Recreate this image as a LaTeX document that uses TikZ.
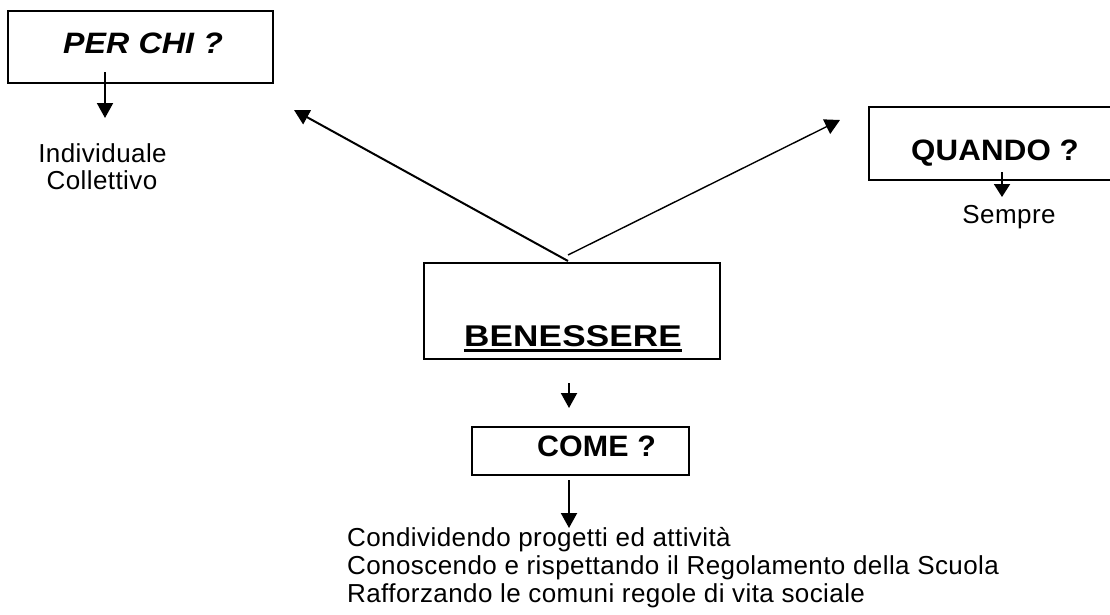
\documentclass[tikz,border=0pt]{standalone}
\usepackage{fontspec}
\setmainfont{Liberation Sans}
\usetikzlibrary{arrows.meta}
\begin{document}
\begin{tikzpicture}[x=1pt,y=-1pt,
  box/.style={draw, line width=1.8pt, inner sep=0pt},
  reg/.style={inner sep=0pt, font=\fontsize{26}{28}\selectfont\addfontfeature{LetterSpace=1.6}},
  hd/.style={inner sep=0pt, font=\fontsize{29.5}{32}\selectfont\bfseries\addfontfeature{FakeStretch=1.06,LetterSpace=0.5}},
  hdi/.style={inner sep=0pt, font=\fontsize{29.5}{32}\selectfont\bfseries\itshape\addfontfeature{FakeStretch=1.09,LetterSpace=0.5}},
  hdb/.style={inner sep=0pt, font=\fontsize{30}{33}\selectfont\bfseries\addfontfeature{FakeStretch=1.17,LetterSpace=0.5}},
  hdc/.style={inner sep=0pt, font=\fontsize{29.5}{32}\selectfont\bfseries\addfontfeature{FakeStretch=1.03,LetterSpace=0.5}},
  arr/.style={line width=2pt, -{Triangle[width=16pt,length=15pt]}},
  thinarr/.style={line width=1.4pt, -{Triangle[width=16pt,length=15pt]}},
]
\useasboundingbox (0,0) rectangle (1110,614);
\clip (0,0) rectangle (1110,614);

% boxes
\node[box, minimum width=265pt, minimum height=72pt] (perchi) at (140.5,47) {};
\node[hdi, anchor=base] (perchiT) at (143,53) {PER CHI ?};

\node[box, minimum width=250pt, minimum height=73pt] (quando) at (994,143.5) {};
\node[hd, anchor=base] (quandoT) at (995,160) {QUANDO ?};

\node[box, minimum width=296pt, minimum height=96pt] (bene) at (572,311) {};
\node[hdb, anchor=base] (beneT) at (573,346) {BENESSERE};
\draw[line width=2.2pt] ([yshift=-4.5pt]beneT.base west) -- ([yshift=-4.5pt]beneT.base east);

\node[box, minimum width=217pt, minimum height=48pt] (come) at (580.5,451) {};
\node[hdc, anchor=base] (comeT) at (596.5,456) {COME ?};

% texts
\node[reg, anchor=base] (ind) at (102.5,162) {Individuale};
\node[reg, anchor=base] (col) at (102,189) {Collettivo};
\node[reg, anchor=base] (sempre) at (1009,223) {Sempre};
\node[reg, anchor=base west] (l1) at (347,546) {Condividendo progetti ed attività};
\node[reg, anchor=base west] (l2) at (347,574) {Conoscendo e rispettando il Regolamento della Scuola};
\node[reg, anchor=base west] (l3) at (347,602) {Rafforzando le comuni regole di vita sociale};

% connector end points
\coordinate (pcA) at (105,72);
\coordinate (pcB) at (105,118);
\coordinate (lA) at (568,261);
\coordinate (lB) at (294,110);
\coordinate (rA) at (568,255);
\coordinate (rB) at (840,120);
\coordinate (qA) at (1002,172);
\coordinate (qB) at (1002,197);
\coordinate (bA) at (569,383);
\coordinate (bB) at (569,408);
\coordinate (cA) at (569,480);
\coordinate (cB) at (569,528);

\draw[arr] (pcA) -- (pcB);
\draw[arr] (lA) -- (lB);
\draw[thinarr] (rA) -- (rB);
\draw[arr, -{Triangle[width=16pt,length=13pt]}] (qA) -- (qB);
\draw[arr] (bA) -- (bB);
\draw[arr] (cA) -- (cB);
\end{tikzpicture}
\end{document}
